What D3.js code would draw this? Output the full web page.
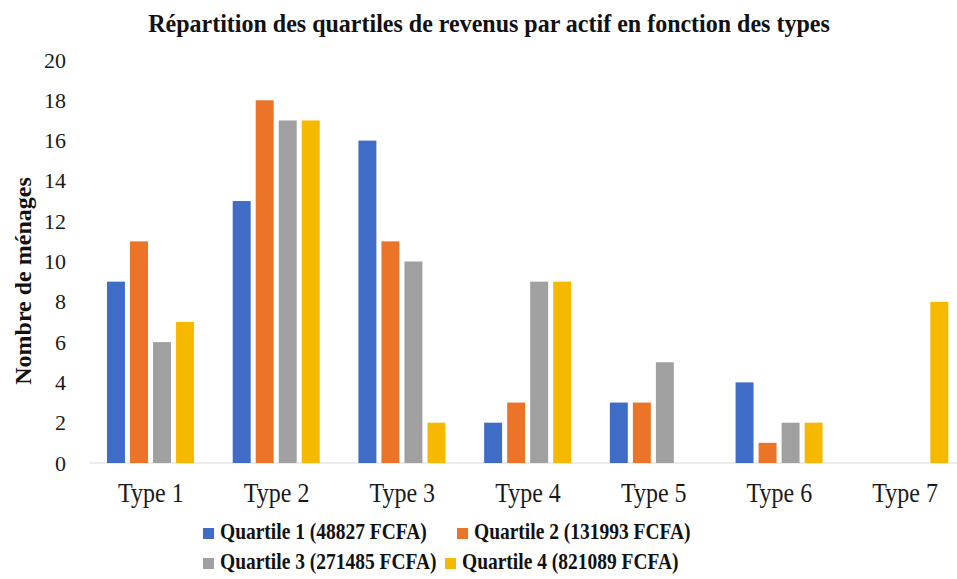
<!DOCTYPE html>
<html lang="fr">
  <head>
    <meta charset="UTF-8" />
    <title>Répartition des quartiles</title>
    <script src="https://d3js.org/d3.v7.min.js"></script>
    <style>
      body { margin: 0; background: #fff; }
      text { font-family: "Liberation Serif", "Times New Roman", serif; }
    </style>
  </head>
  <body>
    <svg width="957" height="579"></svg>
    <script>
      let categories = ["Type 1", "Type 2", "Type 3", "Type 4", "Type 5", "Type 6", "Type 7"];
      let seriesNames = [
        "Quartile 1 (48827 FCFA)",
        "Quartile 2 (131993 FCFA)",
        "Quartile 3 (271485 FCFA)",
        "Quartile 4 (821089 FCFA)",
      ];
      let q1 = [9, 13, 16, 2, 3, 4, 0];
      let q2 = [11, 18, 11, 3, 3, 1, 0];
      let q3 = [6, 17, 10, 9, 5, 2, 0];
      let q4 = [7, 17, 2, 9, 0, 2, 8];
      let yTicks = [0, 2, 4, 6, 8, 10, 12, 14, 16, 18, 20];
      let colors = ["#3f6cc6", "#ec7428", "#a0a0a0", "#f7b900"];

      let series = [q1, q2, q3, q4];
      let svg = d3.select("svg");

      let x = d3.scaleBand().domain(categories).range([88, 968]);
      let x1 = d3.scaleBand().domain(d3.range(4)).range([19, 106]).paddingInner(0.22);
      let y = d3.scaleLinear().domain([0, 20]).range([463, 60]);

      // baseline
      svg.append("line")
        .attr("x1", 90).attr("x2", 957)
        .attr("y1", y(0)).attr("y2", y(0))
        .attr("stroke", "#d9d9d9").attr("stroke-width", 1);

      let groups = svg.selectAll("g.cat")
        .data(categories)
        .enter().append("g")
        .attr("class", "cat")
        .attr("transform", (d) => "translate(" + x(d) + ",0)");

      groups.selectAll("rect")
        .data((d, i) => series.map((s, k) => ({ k: k, v: s[i] })))
        .enter().append("rect")
        .attr("x", (d) => x1(d.k))
        .attr("width", x1.bandwidth())
        .attr("y", (d) => y(d.v))
        .attr("height", (d) => y(0) - y(d.v))
        .attr("fill", (d) => colors[d.k]);

      // y axis
      let yAxis = svg.append("g")
        .attr("transform", "translate(66,0)")
        .attr("font-family", null)
        .call(d3.axisLeft(y).tickValues(yTicks).tickSize(0).tickPadding(0));
      yAxis.attr("font-family", "Liberation Serif");
      yAxis.select(".domain").remove();
      yAxis.selectAll("text").attr("font-size", 22).attr("fill", "#1a1a1a");

      // x axis
      let xAxis = svg.append("g")
        .attr("transform", "translate(0,502)")
        .call(d3.axisBottom(x).tickSize(0).tickPadding(0));
      xAxis.attr("font-family", "Liberation Serif");
      xAxis.select(".domain").remove();
      xAxis.selectAll("text").attr("font-size", 24).attr("fill", "#1a1a1a")
        .attr("dy", 0).attr("y", 0)
        .attr("transform", "scale(1,1.1)");

      svg.append("text")
        .attr("transform", "translate(489,32) scale(1,1.08)")
        .attr("text-anchor", "middle")
        .attr("font-size", 24).attr("font-weight", "bold")
        .attr("fill", "#111")
        .text("Répartition des quartiles de revenus par actif en fonction des types");

      svg.append("text")
        .attr("transform", "translate(31,281) rotate(-90)")
        .attr("text-anchor", "middle")
        .attr("font-size", 24).attr("font-weight", "bold")
        .attr("fill", "#111")
        .text("Nombre de ménages");

      // legend
      let legendPos = [[203, 539], [457, 539], [203, 569], [445, 569]];
      let legend = svg.selectAll("g.leg")
        .data(seriesNames)
        .enter().append("g")
        .attr("class", "leg")
        .attr("transform", (d, i) => "translate(" + legendPos[i][0] + "," + legendPos[i][1] + ")");
      legend.append("rect")
        .attr("x", 0).attr("y", -11).attr("width", 11).attr("height", 11)
        .attr("fill", (d, i) => colors[i]);
      legend.append("text")
        .attr("transform", "translate(17,0) scale(1,1.2)")
        .attr("font-size", 19.5).attr("font-weight", "bold")
        .attr("fill", "#111")
        .text((d) => d);
    </script>
  </body>
</html>
